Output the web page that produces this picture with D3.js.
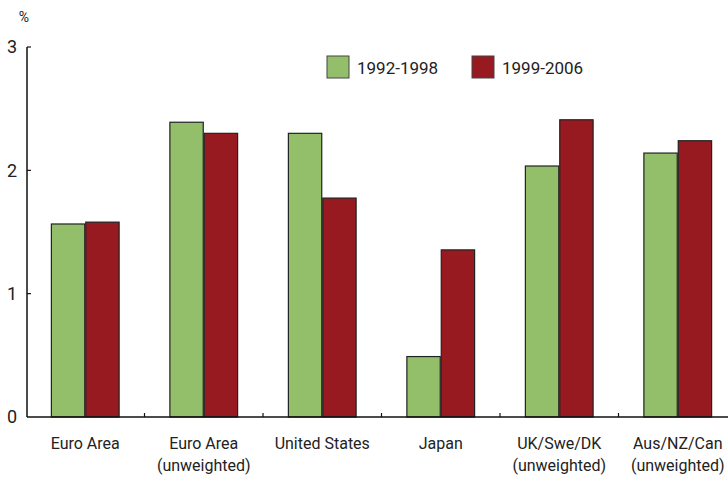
<!DOCTYPE html>
<html><head><meta charset="utf-8">
<script src="https://cdn.jsdelivr.net/npm/d3@7"></script>
<style>
body{margin:0;background:#fff;}
text{font-family:Roboto,"Noto Sans",sans-serif;fill:#222;}
</style></head>
<body><svg id="c" width="728" height="479"></svg>
<script>
const categories = [["Euro Area"],["Euro Area","(unweighted)"],["United States"],["Japan"],["UK/Swe/DK","(unweighted)"],["Aus/NZ/Can","(unweighted)"]];
const seriesNames = ["1992-1998","1999-2006"];
const s1992 = [1.565, 2.39, 2.30, 0.49, 2.035, 2.14];
const s1999 = [1.58, 2.30, 1.775, 1.355, 2.41, 2.24];
const yTicks = [0,1,2,3];
const colors = ["#93bf6b","#961a20"];

(function(){
const svg = d3.select("#c");
const mLeft = 27, mRight = 737, mTop = 47, mBottom = 417;
const x0 = d3.scaleBand().domain(d3.range(categories.length)).range([mLeft-1,mRight]).padding(0);
const bw = x0.bandwidth();
const x1 = d3.scaleBand().domain(seriesNames).range([bw*0.21, bw*0.79]).padding(0);
const y = d3.scaleLinear().domain([0,3]).range([mBottom,mTop]);

const data = [s1992, s1999];
const g = svg.append("g");
categories.forEach((c,i)=>{
  seriesNames.forEach((s,j)=>{
    g.append("rect")
      .attr("x", x0(i)+x1(s)+0.5)
      .attr("y", y(data[j][i]))
      .attr("width", x1.bandwidth()-1)
      .attr("height", y(0)-y(data[j][i]))
      .attr("fill", colors[j])
      .attr("stroke","#222").attr("stroke-width",1.2);
  });
});

svg.append("line").attr("x1",mLeft).attr("x2",mLeft).attr("y1",mTop).attr("y2",mBottom).attr("stroke","#111").attr("stroke-width",1.5);
yTicks.forEach(t=>{
  if(t>0) svg.append("line").attr("x1",mLeft).attr("x2",mLeft+4).attr("y1",y(t)).attr("y2",y(t)).attr("stroke","#111").attr("stroke-width",1.2);
  svg.append("text").attr("x",12).attr("y",y(t)).attr("dy","0.36em").attr("text-anchor","middle").attr("font-size",18).text(t);
});
svg.append("text").attr("x",24).attr("y",22).attr("text-anchor","middle").attr("font-size",14).text("%");

svg.append("line").attr("x1",mLeft).attr("x2",728).attr("y1",mBottom).attr("y2",mBottom).attr("stroke","#111").attr("stroke-width",1.5);
d3.range(1,categories.length).forEach(i=>{
  svg.append("line").attr("x1",x0(i)).attr("x2",x0(i)).attr("y1",mBottom).attr("y2",mBottom-4).attr("stroke","#111").attr("stroke-width",1.2);
});
categories.forEach((c,i)=>{
  c.forEach((line,k)=>{
    svg.append("text").attr("x",x0(i)+bw/2).attr("y",449+k*22).attr("text-anchor","middle").attr("font-size",16).text(line);
  });
});

seriesNames.forEach((s,j)=>{
  const lx = [327,472][j];
  svg.append("rect").attr("x",lx).attr("y",56).attr("width",22).attr("height",22).attr("fill",colors[j]).attr("stroke","#444").attr("stroke-width",1);
  svg.append("text").attr("x",lx+30).attr("y",74).attr("font-size",17).text(s);
});
})();
</script></body></html>
